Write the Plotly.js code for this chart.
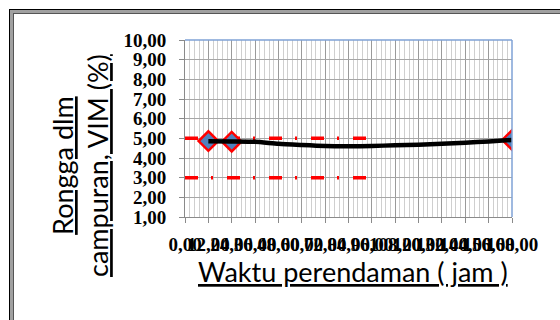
<!DOCTYPE html>
<html><head><meta charset="utf-8">
<script src="https://cdn.plot.ly/plotly-3.0.1.min.js"></script>
<style>
html,body{margin:0;padding:0;background:#fff;overflow:hidden;width:560px;height:320px;}
#wrap{position:relative;width:560px;height:320px;overflow:hidden;}
#chart{position:absolute;left:0;top:0;width:560px;height:320px;}
.fr{position:absolute;pointer-events:none;}
</style>
</head><body><div id="wrap"><div id="chart"></div>
<div class="fr" style="left:9px;top:9px;width:551px;height:1px;background:#000;"></div>
<div class="fr" style="left:10px;top:10px;width:550px;height:3px;background:#a0a0a0;"></div>
<div class="fr" style="left:13px;top:13px;width:547px;height:1px;background:#555;"></div>
<div class="fr" style="left:9px;top:9px;width:1px;height:311px;background:#000;"></div>
<div class="fr" style="left:10px;top:10px;width:3px;height:310px;background:#a0a0a0;"></div>
<div class="fr" style="left:13px;top:13px;width:1px;height:307px;background:#555;"></div>
</div>
<script>
// Data
const markerX = [12, 24, 168];
const markerY = [4.86, 4.83, 4.92];
const curveX = [12, 24, 36, 48, 60, 72, 84, 96, 108, 120, 132, 144, 156, 168];
const curveY = [4.85, 4.84, 4.82, 4.72, 4.66, 4.61, 4.60, 4.61, 4.65, 4.68, 4.73, 4.78, 4.84, 4.92];
const limitX = [0, 96];
const upperLimit = [5, 5];
const lowerLimit = [3, 3];
const yTitle = ['Rongga dlm', 'campuran, VIM (%)'];
const xTitle = 'Waktu perendaman ( jam )';

const W = 560, H = 320;
const L = 185, R = 512, T = 40, B = 217;
const px = v => (v - L) / (R - L);
const py = v => (B - v) / (B - T);

const redLine = {color: '#FF0000', width: 3.5, dash: '13px,13px,2px,14px'};
const traces = [
  {x: limitX, y: upperLimit, mode: 'lines', line: redLine, hoverinfo: 'skip'},
  {x: limitX, y: lowerLimit, mode: 'lines', line: redLine, hoverinfo: 'skip'},
  {x: markerX, y: markerY, mode: 'markers',
   marker: {symbol: 'diamond', size: 15, color: '#4F81BD', line: {color: '#FF0000', width: 2.5}}},
  {x: curveX, y: curveY, mode: 'lines', line: {color: '#000000', width: 4.5, shape: 'spline', smoothing: 0.6}}
];

const tickFont = {family: 'Liberation Serif', size: 19, color: '#000', weight: 'bold'};
const titleFont = {family: 'Lato', size: 27, color: '#000'};

const layout = {
  width: W, height: H,
  margin: {l: L, r: W - R, t: T, b: H - B},
  paper_bgcolor: '#fff', plot_bgcolor: '#fff',
  separators: ',.',
  showlegend: false,
  xaxis: {
    range: [0, 168], dtick: 12, tick0: 0, tickformat: '.2f',
    showgrid: true, gridcolor: '#9a9a9a', gridwidth: 1,
    minor: {dtick: 2.4, showgrid: true, gridcolor: '#cfcfcf', gridwidth: 1},
    ticks: 'outside', ticklen: 5, tickcolor: '#8a8a8a',
    showline: true, linecolor: '#8a8a8a', linewidth: 1,
    tickfont: tickFont, tickangle: 0, zeroline: false, automargin: false,
    ticklabelstandoff: 5
  },
  yaxis: {
    range: [1, 10], dtick: 1, tick0: 0, tickformat: '.2f',
    showgrid: true, gridcolor: '#a6a6a6', gridwidth: 1,
    ticks: 'outside', ticklen: 5, tickcolor: '#8a8a8a',
    showline: true, linecolor: '#8a8a8a', linewidth: 1,
    tickfont: tickFont, zeroline: false, automargin: false,
    ticklabelstandoff: 9
  },
  shapes: [
    {type: 'line', xref: 'paper', yref: 'paper', x0: 0, x1: 1, y0: 1, y1: 1, line: {color: '#7FA2D6', width: 1.5}},
    {type: 'line', xref: 'paper', yref: 'paper', x0: 1, x1: 1, y0: 0, y1: 1, line: {color: '#7FA2D6', width: 1.5}}
  ],
  annotations: [
    {xref: 'paper', yref: 'paper', x: px(80), y: py(166), xanchor: 'center', yanchor: 'middle',
     textangle: -90, showarrow: false, font: titleFont,
     text: '<u>' + yTitle[0] + '</u><br><u>' + yTitle[1] + '</u>'},
    {xref: 'paper', yref: 'paper', x: px(353), y: py(271), xanchor: 'center', yanchor: 'middle',
     showarrow: false, font: titleFont, text: '<u>' + xTitle + '</u>'}
  ]
};

Plotly.newPlot('chart', traces, layout, {staticPlot: true, displayModeBar: false});
</script>
</body></html>
